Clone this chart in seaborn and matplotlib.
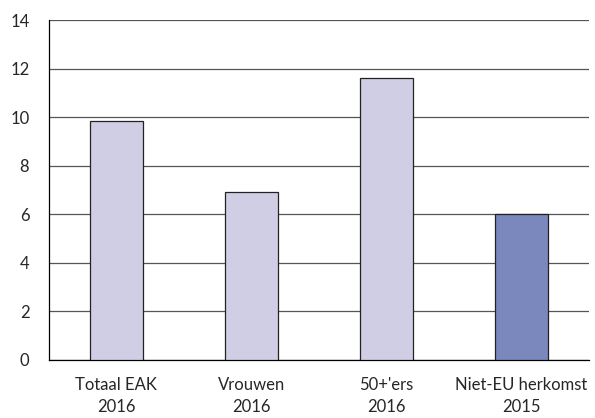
import matplotlib
matplotlib.use("Agg")
import matplotlib.pyplot as plt
import seaborn as sns
import pandas as pd

categories = ["Totaal EAK\n2016", "Vrouwen\n2016", "50+'ers\n2016", "Niet-EU herkomst\n2015"]
values = [9.85, 6.9, 11.6, 6.0]
bar_colors = ["#d0cee4", "#d0cee4", "#d0cee4", "#7a88be"]

df = pd.DataFrame({"groep": categories, "waarde": values})

sns.set_style("white")
plt.rcParams["font.family"] = ["Lato", "DejaVu Sans"]

fig, ax = plt.subplots(figsize=(5.95, 4.18), dpi=100)
fig.subplots_adjust(left=0.082, right=0.99, top=0.952, bottom=0.139)

sns.barplot(data=df, x="groep", y="waarde", hue="groep", palette=bar_colors,
            legend=False, width=0.39, edgecolor="#222222", linewidth=0.9,
            saturation=1, ax=ax, zorder=3)

ax.set_ylim(0, 14)
ax.set_yticks(range(0, 15, 2))
ax.set_xlim(-0.5, 3.5)
ax.yaxis.grid(True, color="#555555", linewidth=0.9, zorder=0)
ax.set_axisbelow(True)

for s in ["top", "right"]:
    ax.spines[s].set_visible(False)
for s in ["left", "bottom"]:
    ax.spines[s].set_color("black")
    ax.spines[s].set_linewidth(0.9)

ax.set_xticks([-0.5, 0.5, 1.5, 2.5, 3.5], minor=True)
ax.tick_params(axis="x", which="minor", direction="in", length=10, width=0.9, color="black")
ax.tick_params(axis="x", which="major", length=0, labelsize=12, pad=12)
ax.tick_params(axis="y", length=0, labelsize=12, pad=14)
for lbl in ax.get_xticklabels():
    lbl.set_linespacing(1.5)
ax.set_xlabel("")
ax.set_ylabel("")

fig.savefig("out.png", dpi=100)
